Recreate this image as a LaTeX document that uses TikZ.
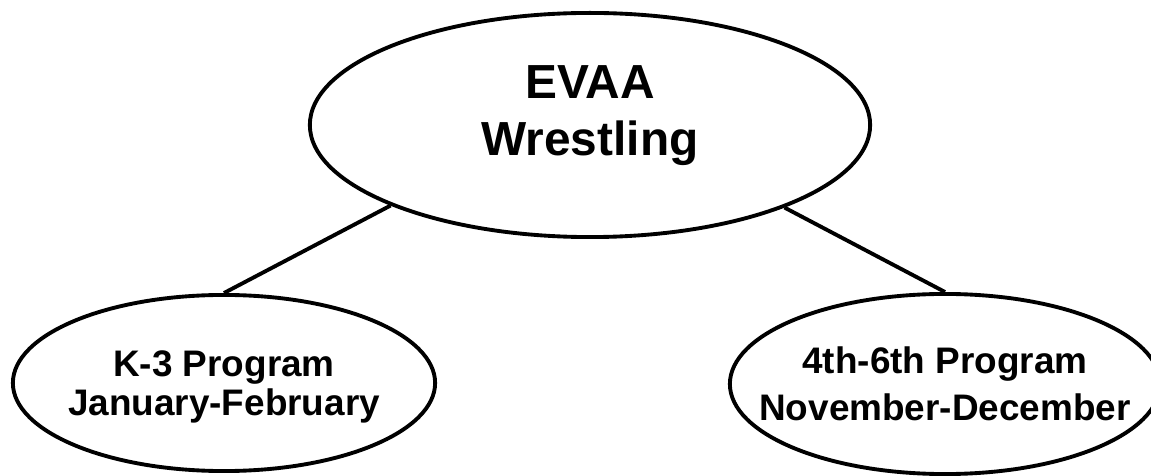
\documentclass[tikz,border=0pt]{standalone}
\usepackage{fontspec}
\setmainfont{Liberation Sans}
\usetikzlibrary{shapes.geometric}
% a line of zero width, so the ellipse keeps its own size
\newcommand{\nowidth}[1]{\makebox[0pt]{#1}}

\begin{document}
\begin{tikzpicture}[x=0.01cm, y=-0.01cm, line width=1.1pt,
  club/.style={ellipse, draw, align=center, inner sep=0pt, text depth=0pt}]
\clip (0,0) rectangle (1151,476);
\node[club, minimum width=5.6cm, minimum height=2.24cm, text depth=0.28cm,
  font=\bfseries\fontsize{13.6}{16.2}\selectfont] (Wrestling) at (590,125) {EVAA\\Wrestling};
\node[club, minimum width=4.22cm, minimum height=1.76cm,
  font=\bfseries\fontsize{10.5}{11.1}\selectfont] (KThree) at (224,383)
  {\nowidth{K-3 Program}\\\nowidth{January-February}};
\node[club, minimum width=4.3cm, minimum height=1.8cm,
  font=\bfseries\fontsize{10.5}{13.3}\selectfont] (FourSix) at (945,384)
  {\nowidth{4th-6th Program}\\\nowidth{November-December}};
\draw (Wrestling.202.6) -- (KThree.north);
\draw (Wrestling.337) -- (FourSix.north);
\end{tikzpicture}
\end{document}
